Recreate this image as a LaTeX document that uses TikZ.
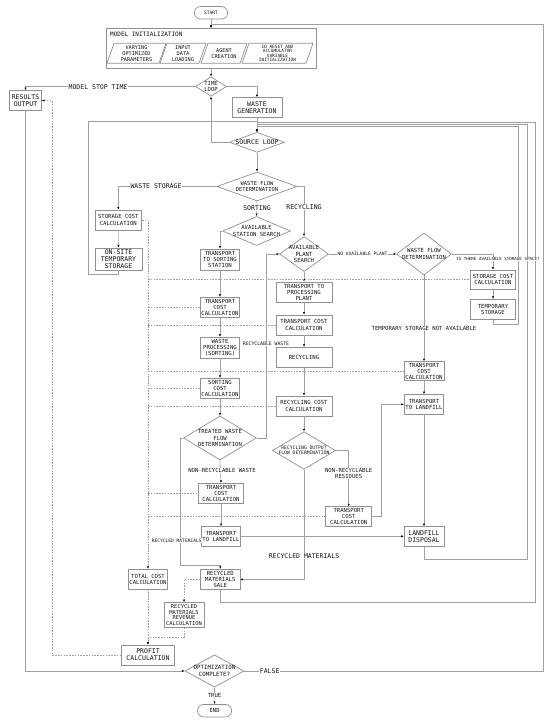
\documentclass[tikz,border=0pt]{standalone}
\usepackage{fontspec}
\setmainfont{DejaVu Sans Mono}
\usetikzlibrary{arrows.meta,shapes.geometric}
\definecolor{lc}{RGB}{160,160,160}
\definecolor{bc}{RGB}{145,145,145}
\definecolor{tc}{RGB}{20,20,20}
\tikzset{
  fs/.style={font=\fontsize{5.6}{6.2}\selectfont},
  fl/.style={font=\fontsize{6.5}{7.1}\selectfont},
  fx/.style={font=\fontsize{4.6}{5.2}\selectfont},
  bx/.style n args={2}{draw=bc, line width=0.7pt, fill=white, rectangle, minimum width=#1, minimum height=#2, inner sep=0pt, align=center, text=tc},
  dm/.style n args={2}{draw=bc, line width=0.7pt, fill=white, diamond, minimum width=#1, minimum height=#2, inner sep=0pt},
  pill/.style={draw=bc, line width=0.7pt, fill=white, rounded corners=6pt, minimum width=#1, minimum height=12.5pt, inner sep=0pt, text=tc},
  dtext/.style={align=center, inner sep=0pt, text=tc},
  lab/.style={fill=white, inner sep=0.6pt, align=center, text=tc},
  ln/.style={draw=lc, line width=0.6pt},
  dl/.style={draw=lc, line width=0.6pt, dash pattern=on 1.6pt off 1.2pt},
  pg/.style={draw=bc, line width=0.7pt, fill=white},
}
\begin{document}
\begin{tikzpicture}[x=1pt,y=-1pt, >={Latex[length=2.6pt,width=2.2pt,color=black]}]
\useasboundingbox[fill=white] (0,0) rectangle (550,722);

% ---- top
\node[pill=33pt, font=\fontsize{4.6}{5}\selectfont] (start) at (211,12.8) {START};
\node[bx={210pt}{40pt}] (init) at (211,48.3) {};
\node[dtext, anchor=west, font=\fontsize{6}{7}\selectfont] (initt) at (110,34.8) {MODEL INITIALIZATION};
\draw[pg] (107,63.3) -- (159,63.3) -- (166,43.3) -- (114,43.3) -- cycle;
\node[dtext, font=\fontsize{5.2}{6.1}\selectfont] (p1) at (136.5,53.3) {VARYING\\OPTIMIZED\\PARAMETERS};
\draw[pg] (160,63.3) -- (199,63.3) -- (206,43.3) -- (167,43.3) -- cycle;
\node[dtext, font=\fontsize{5.2}{6.1}\selectfont] (p2) at (183,53.3) {INPUT\\DATA\\LOADING};
\draw[pg] (201,63.3) -- (240,63.3) -- (247,43.3) -- (208,43.3) -- cycle;
\node[dtext, font=\fontsize{5.2}{6.1}\selectfont] (p3) at (224,53.3) {AGENT\\CREATION};
\draw[pg] (242,63.3) -- (306,63.3) -- (313,43.3) -- (249,43.3) -- cycle;
\node[dtext, font=\fontsize{4.4}{4.5}\selectfont] (p4) at (277.5,53.3) {ID RESET AND\\ACCUMULATOR\\VARIABLE\\INITIALIZATION};

\node[dm={31pt}{19.4pt}] (tl) at (211,86.5) {};
\node[dtext, fs] (tlt) at (tl) {TIME\\LOOP};
\node[bx={32pt}{20pt}, fl] (res) at (25.5,100.5) {RESULTS\\OUTPUT};
\node[bx={50pt}{20pt}, fl] (wg) at (257,107.7) {WASTE\\GENERATION};
\node[dm={55pt}{20pt}] (sl) at (257,142.3) {};
\node[dtext, fl] (slt) at (sl) {SOURCE LOOP};
\node[dm={80pt}{29pt}] (wfd) at (257,186.5) {};
\node[dtext, font=\fontsize{5.4}{6}\selectfont] (wfdt) at (wfd) {WASTE FLOW\\DETERMINATION};

% ---- storage column
\node[bx={46.7pt}{20pt}, fs] (scc1) at (118.3,220) {STORAGE COST\\CALCULATION};
\node[bx={47pt}{22pt}, font=\fontsize{6.5}{6.9}\selectfont] (ots) at (118.5,259) {ON-SITE\\TEMPORARY\\STORAGE};

% ---- sorting column
\node[dm={68pt}{29pt}] (ass) at (256.5,231) {};
\node[dtext, fs] (asst) at (ass) {AVAILABLE\\STATION SEARCH};
\node[bx={38.6pt}{21pt}, fs] (tss) at (220,259.5) {TRANSPORT\\TO SORTING\\STATION};
\node[bx={38.6pt}{20pt}, fs] (tcc1) at (220,307.3) {TRANSPORT\\COST\\CALCULATION};
\node[bx={38.6pt}{21pt}, fs] (wps) at (220,347.8) {WASTE\\PROCESSING\\(SORTING)};
\node[bx={38.6pt}{20pt}, fs] (scc) at (220,388.3) {SORTING\\COST\\CALCULATION};
\node[dm={73pt}{44pt}] (twfd) at (220,438) {};
\node[dtext, fs] (twfdt) at (twfd) {TREATED WASTE\\FLOW\\DETERMINATION};
\node[bx={45.3pt}{20pt}, fs] (tcc4) at (221,493.3) {TRANSPORT\\COST\\CALCULATION};
\node[bx={39.3pt}{19.6pt}, fs] (ttl1) at (221,536.3) {TRANSPORT\\TO LANDFILL};
\node[bx={39.3pt}{20pt}, fs] (rms) at (220.3,579.3) {RECYCLED\\MATERIALS\\SALE};
\node[bx={39.6pt}{20pt}, fs] (tcost) at (148,579.3) {TOTAL COST\\CALCULATION};
\node[bx={39.7pt}{25pt}, font=\fontsize{5.4}{5.8}\selectfont] (rmrc) at (184,615) {RECYCLED\\MATERIALS\\REVENUE\\CALCULATION};
\node[bx={53pt}{20pt}, fl] (profit) at (148,655) {PROFIT\\CALCULATION};
\node[dm={59pt}{32.3pt}] (opt) at (214.5,671) {};
\node[dtext, font=\fontsize{5.8}{6.6}\selectfont] (optt) at (opt) {OPTIMIZATION\\COMPLETE?};
\node[pill=34pt, font=\fontsize{5.6}{6}\selectfont] (end) at (214.6,710.7) {END};

% ---- recycling column
\node[dm={49pt}{35pt}] (aps) at (304,254) {};
\node[dtext, fs] (apst) at (aps) {AVAILABLE\\PLANT\\SEARCH};
\node[bx={56.3pt}{20.7pt}, fs] (ttpp) at (304,292.3) {TRANSPORT TO\\PROCESSING\\PLANT};
\node[bx={56.3pt}{20pt}, fs] (tcc2) at (304,325) {TRANSPORT COST\\CALCULATION};
\node[bx={56.3pt}{20pt}, fs] (rec) at (304,357.3) {RECYCLING};
\node[bx={56.3pt}{20pt}, fs] (rcc) at (304,406) {RECYCLING COST\\CALCULATION};
\node[dm={63pt}{37.6pt}] (rofd) at (304,450.5) {};
\node[dtext, font=\fontsize{4.7}{5.4}\selectfont] (rofdt) at (rofd) {RECYCLING OUTPUT\\FLOW DETERMINATION};
\node[bx={46pt}{20pt}, fs] (tcc3) at (348.7,516.7) {TRANSPORT\\COST\\CALCULATION};

% ---- right column
\node[dm={55pt}{42pt}] (wfd2) at (424,254) {};
\node[dtext, fs] (wfd2t) at (wfd2) {WASTE FLOW\\DETERMINATION};
\node[bx={45pt}{19.3pt}, fs] (scc2) at (493,279.7) {STORAGE COST\\CALCULATION};
\node[bx={45pt}{20pt}, fs] (ts) at (493,309.3) {TEMPORARY\\STORAGE};
\node[bx={40pt}{19pt}, fs] (tcc5) at (424,371.2) {TRANSPORT\\COST\\CALCULATION};
\node[bx={39.5pt}{19.5pt}, fs] (ttl2) at (424,404.3) {TRANSPORT\\TO LANDFILL};
\node[bx={39.7pt}{19.3pt}, fl] (ld) at (424,536.3) {LANDFILL\\DISPOSAL};

% ---- solid connectors
\draw[ln,->] (start.south) -- (init.north);
\draw[ln,->] (opt.east) -- (543,671) -- (543,24) -- (211,24) -- (init.north);
\draw[ln,->] (init.south) -- (tl.north);
\draw[ln,->] (tl.west) -| (res.north);
\draw[ln,->] (tl.east) -| (wg.north);
\draw[ln,->] (wg.south) -- (sl.north);
\draw[ln,->] (sl.west) -| (tl.south);
\draw[ln,->] (ots.south) -- (118.5,274) -- (88,274) -- (88,121) -- (257,121) -- (sl.north);
\draw[ln,->] (rms.south) -- (220.3,602) -- (535,602) -- (535,122.5) -- (257,122.5) -- (sl.north);
\draw[ln,->] (ld.south) -- (424,559.3) -- (527,559.3) -- (527,124.5) -- (257,124.5) -- (sl.north);
\draw[ln,->] (ts.south) -- (493,324) -- (518,324) -- (518,126.5) -- (257,126.5) -- (sl.north);
\draw[ln,->] (sl.south) -- (wfd.north);
\draw[ln,->] (wfd.west) -| (scc1.north);
\draw[ln,->] (wfd.south) -- (ass.north);
\draw[ln,->] (wfd.east) -| (aps.north);
\draw[ln,->] (scc1.south) -- (ots.north);
\draw[ln,->] (ass.west) -| (tss.north);
\draw[ln,->] (tss.south) -- (tcc1.north);
\draw[ln,->] (tcc1.south) -- (wps.north);
\draw[ln,->] (wps.south) -- (scc.north);
\draw[ln,->] (scc.south) -- (twfd.north);
\draw[ln,->] (twfd.south) -- (tcc4.north);
\draw[ln,->] (tcc4.south) -- (ttl1.north);
\draw[ln,->] (ttl1.east) -- (ld.west);
\draw[ln,->] (twfd.east) -- (266,438) -- (266,254) -- (aps.west);
\draw[ln,->] (twfd.west) -- (180.7,438) -- (180.7,565) -- (220.3,565) -- (rms.north);
\draw[ln,->] (aps.south) -- (ttpp.north);
\draw[ln,->] (ttpp.south) -- (tcc2.north);
\draw[ln,->] (tcc2.south) -- (rec.north);
\draw[ln,->] (rec.south) -- (rcc.north);
\draw[ln,->] (rcc.south) -- (rofd.north);
\draw[ln,->] (aps.east) -- (wfd2.west);
\draw[ln,->] (wfd2.east) -| (scc2.north);
\draw[ln,->] (scc2.south) -- (ts.north);
\draw[ln,->] (wfd2.south) -- (tcc5.north);
\draw[ln,->] (tcc5.south) -- (ttl2.north);
\draw[ln,->] (ttl2.south) -- (ld.north);
\draw[ln,->] (rofd.east) -| (tcc3.north);
\draw[ln,->] (tcc3.east) -- (381,516.7) |- (ttl2.west);
\draw[ln,->] (rofd.south) |- (rms.east);
\draw[ln,->] (res.south) |- (opt.west);
\draw[ln,->] (opt.south) -- (end.north);

% ---- dashed cost connectors
\draw[dl,->] (scc1.east) -- (148,220) -- (tcost.north);
\draw[dl] (148,279.7) -- (scc2.west);
\draw[dl] (148,307.3) -- (tcc1.west);
\draw[dl] (148,325) -- (tcc2.west);
\draw[dl] (148,371.2) -- (tcc5.west);
\draw[dl] (148,388.3) -- (scc.west);
\draw[dl] (148,406) -- (rcc.west);
\draw[dl] (148,493.3) -- (tcc4.west);
\draw[dl] (148,516.7) -- (tcc3.west);
\draw[dl,->] (tcost.south) -- (profit.north);
\draw[dl,->] (rms.west) -| (rmrc.north);
\draw[dl,->] (rmrc.south) -- (184,637.3) -| (profit.north);
\draw[dl,->] (profit.west) -- (52,655) |- (res.east);

% ---- labels
\node[lab, fl] (l1) at (98,87) {MODEL STOP TIME};
\node[lab, fl] (l2) at (156,186.5) {WASTE STORAGE};
\node[lab, fl] (l3) at (257,208) {SORTING};
\node[lab, fl] (l4) at (304,206.7) {RECYCLING};
\node[lab, fx] (l5) at (362.5,254) {NO AVAILABLE PLANT};
\node[lab, font=\fontsize{4.2}{4.8}\selectfont] (l6) at (498,259) {IS THERE AVAILABLE STORAGE SPACE?};
\node[lab, fs] (l7) at (424,328.3) {TEMPORARY STORAGE NOT AVAILABLE};
\node[lab, font=\fontsize{4.8}{5.4}\selectfont] (l8) at (266,344) {RECYCLABLE WASTE};
\node[lab, fs] (l9) at (222,470.7) {NON-RECYCLABLE WASTE};
\node[lab, fs] (l10) at (348.7,473.5) {NON-RECYCLABLE\\RESIDUES};
\node[lab, fx] (l11) at (176.7,540.7) {RECYCLED MATERIALS};
\node[lab, fl] (l12) at (304,555.7) {RECYCLED MATERIALS};
\node[lab, fl] (l13) at (269.7,671) {FALSE};
\node[lab, fs] (l14) at (214.5,695.7) {TRUE};
\end{tikzpicture}
\end{document}
